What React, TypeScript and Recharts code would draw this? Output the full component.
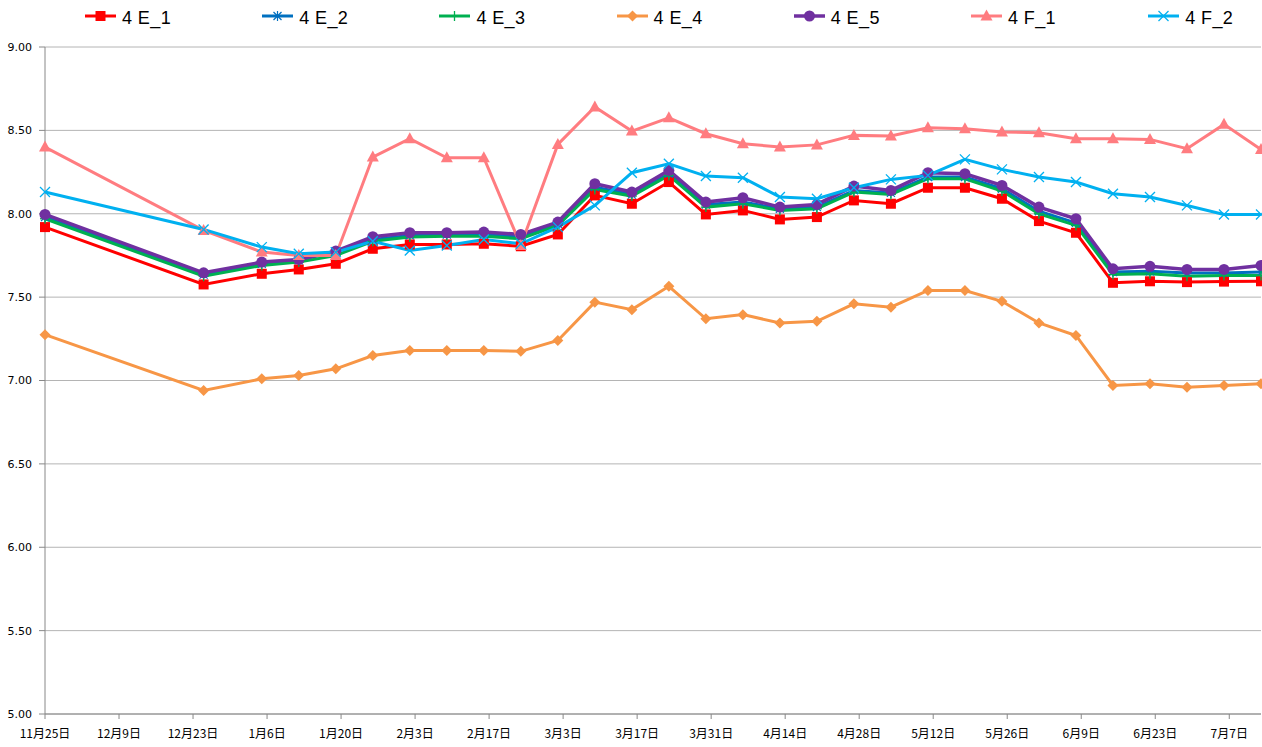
import React from 'react';
import { LineChart, Line, XAxis, YAxis, CartesianGrid } from 'recharts';

// sample dates (weekly after new year)
const sampleDates = [
  '2013-11-25', '2013-12-25', '2014-01-05', '2014-01-12', '2014-01-19', '2014-01-26',
  '2014-02-02', '2014-02-09', '2014-02-16', '2014-02-23', '2014-03-02', '2014-03-09',
  '2014-03-16', '2014-03-23', '2014-03-30', '2014-04-06', '2014-04-13', '2014-04-20',
  '2014-04-27', '2014-05-04', '2014-05-11', '2014-05-18', '2014-05-25', '2014-06-01',
  '2014-06-08', '2014-06-15', '2014-06-22', '2014-06-29', '2014-07-06', '2014-07-13',
];

const tickDates = [
  '2013-11-25', '2013-12-09', '2013-12-23', '2014-01-06', '2014-01-20', '2014-02-03',
  '2014-02-17', '2014-03-03', '2014-03-17', '2014-03-31', '2014-04-14', '2014-04-28',
  '2014-05-12', '2014-05-26', '2014-06-09', '2014-06-23', '2014-07-07',
];
const axisStart = '2013-11-25';
const axisEnd = '2014-07-13';

const yTicks = [5, 5.5, 6, 6.5, 7, 7.5, 8, 8.5, 9];

const e1 = [7.92, 7.576, 7.64, 7.666, 7.70, 7.79, 7.816, 7.816, 7.82, 7.805, 7.876, 8.11, 8.06, 8.19, 7.996,
  8.02, 7.966, 7.98, 8.08, 8.06, 8.156, 8.156, 8.09, 7.956, 7.886, 7.586, 7.595, 7.59, 7.593, 7.595];
const e2 = [7.98, 7.635, 7.70, 7.72, 7.775, 7.845, 7.87, 7.875, 7.875, 7.86, 7.94, 8.16, 8.115, 8.24, 8.055,
  8.07, 8.03, 8.04, 8.14, 8.125, 8.22, 8.22, 8.15, 8.015, 7.945, 7.65, 7.655, 7.645, 7.645, 7.65];
const e3 = [7.97, 7.625, 7.69, 7.71, 7.75, 7.835, 7.86, 7.865, 7.865, 7.85, 7.93, 8.146, 8.106, 8.23, 8.04,
  8.06, 8.02, 8.03, 8.13, 8.116, 8.21, 8.21, 8.136, 8.00, 7.93, 7.636, 7.64, 7.625, 7.63, 7.63];
const e4 = [7.275, 6.94, 7.01, 7.03, 7.07, 7.15, 7.18, 7.18, 7.18, 7.175, 7.24, 7.47, 7.425, 7.565, 7.37,
  7.395, 7.345, 7.355, 7.46, 7.44, 7.54, 7.54, 7.475, 7.345, 7.27, 6.97, 6.98, 6.96, 6.97, 6.98];
const e5 = [7.996, 7.646, 7.71, 7.726, 7.776, 7.862, 7.886, 7.886, 7.89, 7.876, 7.95, 8.18, 8.13, 8.26, 8.07,
  8.096, 8.04, 8.056, 8.166, 8.14, 8.246, 8.24, 8.17, 8.04, 7.97, 7.67, 7.685, 7.666, 7.666, 7.69];
const f1 = [8.40, 7.90, 7.77, 7.75, 7.75, 8.34, 8.45, 8.336, 8.336, 7.81, 8.416, 8.64, 8.496, 8.575, 8.48,
  8.42, 8.40, 8.413, 8.47, 8.466, 8.516, 8.51, 8.49, 8.486, 8.45, 8.45, 8.446, 8.39, 8.536, 8.386];
const f2 = [8.13, 7.906, 7.80, 7.76, 7.77, 7.835, 7.78, 7.81, 7.846, 7.82, 7.92, 8.05, 8.246, 8.30, 8.226,
  8.216, 8.10, 8.09, 8.156, 8.206, 8.23, 8.326, 8.266, 8.22, 8.19, 8.12, 8.10, 8.05, 7.996, 7.996];

type Shape = 'square' | 'asterisk' | 'plus' | 'diamond' | 'circle' | 'triangle' | 'cross';

const series: { key: string; name: string; values: number[]; color: string; shape: Shape; width: number }[] = [
  { key: 'e1', name: '4 E_1', values: e1, color: '#ff0000', shape: 'square', width: 3 },
  { key: 'e2', name: '4 E_2', values: e2, color: '#0070c0', shape: 'asterisk', width: 3 },
  { key: 'e3', name: '4 E_3', values: e3, color: '#00b050', shape: 'plus', width: 3 },
  { key: 'e4', name: '4 E_4', values: e4, color: '#f79646', shape: 'diamond', width: 3 },
  { key: 'e5', name: '4 E_5', values: e5, color: '#7030a0', shape: 'circle', width: 3.5 },
  { key: 'f1', name: '4 F_1', values: f1, color: '#ff7c80', shape: 'triangle', width: 3 },
  { key: 'f2', name: '4 F_2', values: f2, color: '#00b0f0', shape: 'cross', width: 3 },
];

const DAY = 86400000;
const dayOf = (s: string) => Math.round((Date.parse(s) - Date.parse(axisStart)) / DAY);

const chartData = sampleDates.map((d, i) => {
  const row: Record<string, number> = { day: dayOf(d) };
  series.forEach(s => { row[s.key] = s.values[i]; });
  return row;
});

const tickDays = tickDates.map(dayOf);
const tickLabel = (day: number) => {
  const dt = new Date(Date.parse(axisStart) + day * DAY);
  return `${dt.getUTCMonth() + 1}月${dt.getUTCDate()}日`;
};

const Marker = ({ cx, cy, shape, color }: { cx?: number; cy?: number; shape: Shape; color: string }) => {
  if (cx == null || cy == null) return null;
  switch (shape) {
    case 'square':
      return <rect x={cx - 5} y={cy - 5} width={10} height={10} fill={color} />;
    case 'asterisk':
      return (
        <g stroke={color} strokeWidth={1.2}>
          <line x1={cx} y1={cy - 5} x2={cx} y2={cy + 5} />
          <line x1={cx - 4} y1={cy - 4} x2={cx + 4} y2={cy + 4} />
          <line x1={cx - 4} y1={cy + 4} x2={cx + 4} y2={cy - 4} />
        </g>
      );
    case 'plus':
      return (
        <g stroke={color} strokeWidth={1.3}>
          <line x1={cx} y1={cy - 5} x2={cx} y2={cy + 5} />
          <line x1={cx - 5} y1={cy} x2={cx + 5} y2={cy} />
        </g>
      );
    case 'diamond':
      return <polygon points={`${cx},${cy - 5.5} ${cx + 5.5},${cy} ${cx},${cy + 5.5} ${cx - 5.5},${cy}`} fill={color} />;
    case 'circle':
      return <circle cx={cx} cy={cy} r={5.5} fill={color} />;
    case 'triangle':
      return <polygon points={`${cx},${cy - 6.5} ${cx + 6},${cy + 4.5} ${cx - 6},${cy + 4.5}`} fill={color} />;
    case 'cross':
      return (
        <g stroke={color} strokeWidth={1.3}>
          <line x1={cx - 5} y1={cy - 5} x2={cx + 5} y2={cy + 5} />
          <line x1={cx - 5} y1={cy + 5} x2={cx + 5} y2={cy - 5} />
        </g>
      );
  }
  return null;
};

const LegendRow = () => (
  <>
    {series.map((s, i) => (
      <div
        key={s.key}
        style={{ position: 'absolute', left: 85 + i * 177.2, top: 6, height: 20, display: 'flex', alignItems: 'center' }}
      >
        <svg width={31} height={20} style={{ display: 'block' }}>
          <line x1={0} y1={10} x2={31} y2={10} stroke={s.color} strokeWidth={s.width} />
          <Marker cx={15.5} cy={10} shape={s.shape} color={s.color} />
        </svg>
        <span
          style={{
            marginLeft: 6, paddingTop: 3, fontSize: 18, letterSpacing: 0.4, lineHeight: '20px',
            fontFamily: '"Liberation Sans", Arial, sans-serif', color: '#000', whiteSpace: 'nowrap',
          }}
        >
          {s.name}
        </span>
      </div>
    ))}
  </>
);

export default function App() {
  return (
    <div style={{ position: 'absolute', left: 0, top: 0, width: 1262, height: 747, background: '#fff' }}>
      <LineChart width={1262} height={747} data={chartData} margin={{ top: 47, right: 1, bottom: 0, left: 0 }}>
        <CartesianGrid vertical={false} stroke="#b4b4b4" strokeWidth={1} />
        <XAxis
          dataKey="day"
          type="number"
          domain={[0, dayOf(axisEnd)]}
          ticks={tickDays}
          tickFormatter={tickLabel}
          interval={0}
          height={33}
          stroke="#888"
          tickSize={5}
          tickMargin={10}
          tick={{ fill: '#000', fontSize: 12, fontFamily: '"Noto Sans CJK JP", sans-serif' }}
        />
        <YAxis
          type="number"
          domain={[5, 9]}
          ticks={yTicks}
          tickFormatter={(v: number) => v.toFixed(2)}
          width={45}
          stroke="#888"
          tickSize={6}
          tickMargin={7}
          tick={{ fill: '#000', fontSize: 11, fontFamily: '"DejaVu Sans", sans-serif' }}
        />
        {series.map(s => (
          <Line
            key={s.key}
            dataKey={s.key}
            name={s.name}
            type="linear"
            stroke={s.color}
            strokeWidth={s.width}
            isAnimationActive={false}
            activeDot={false}
            dot={(p: any) => <Marker key={`${s.key}-${p.index}`} cx={p.cx} cy={p.cy} shape={s.shape} color={s.color} />}
          />
        ))}
      </LineChart>
      <LegendRow />
    </div>
  );
}
